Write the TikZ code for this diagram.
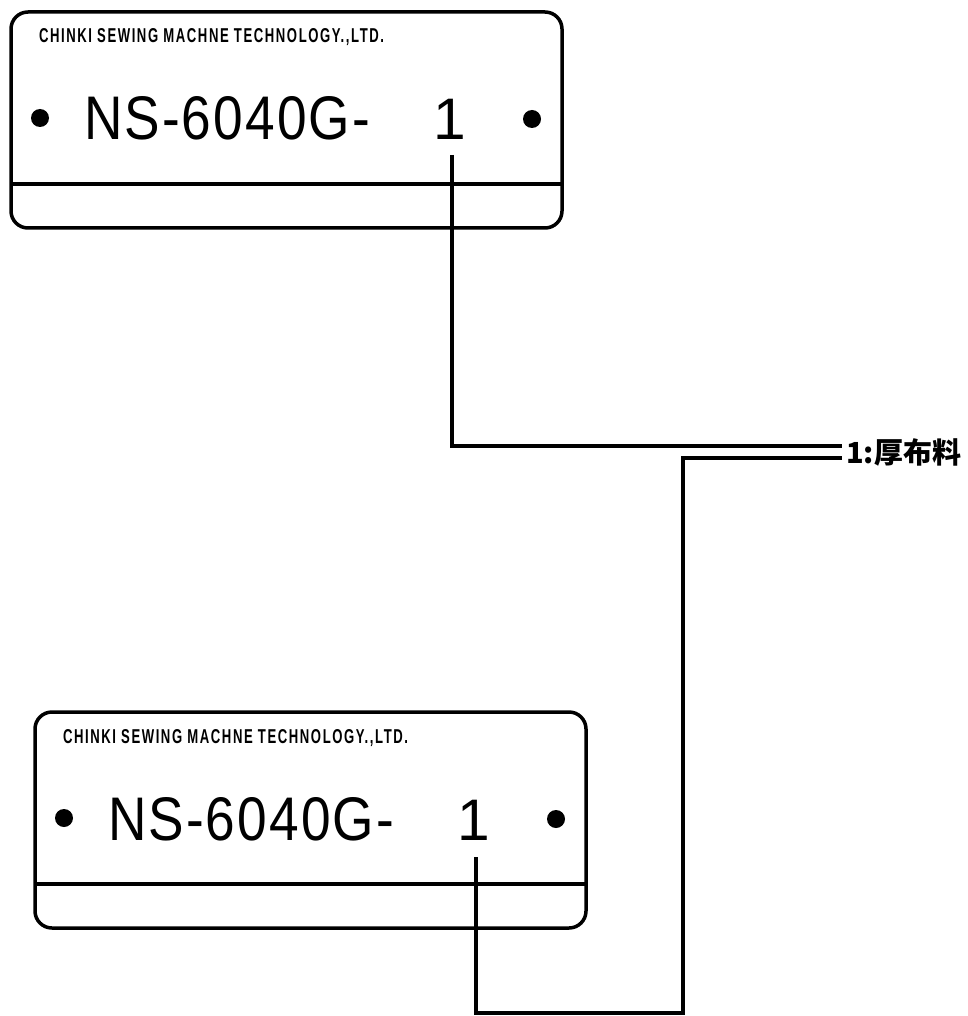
\documentclass[tikz,border=0pt]{standalone}
\usepackage{fontspec}
\setmainfont{Liberation Sans}
\newfontfamily\cjk{Noto Sans CJK SC}
\newfontfamily\smallplate[LetterSpace=12]{Liberation Sans}
\newfontfamily\bigplate[LetterSpace=4]{Liberation Sans}
\begin{document}
\begin{tikzpicture}[x=1pt,y=-1pt,
  plate/.style={line width=3.5pt, rounded corners=17pt},
  plateline/.style={line width=3.5pt},
  conn/.style={line width=4pt},
  txt/.style={inner sep=0pt, outer sep=0pt, anchor=base west}]
\fill[white] (0,0) rectangle (967,1016);
\useasboundingbox (0,0) rectangle (967,1016);
% top plate
\draw[plate] (11,12) rectangle (562,228);
\draw[plateline] (11,184) -- (562,184);
\node[txt] (smallA) at (39,43) {\resizebox{345pt}{14pt}{\smallplate\bfseries CHINKI SEWING MACHNE TECHNOLOGY.,LTD.}};
\node[txt] (bigA) at (84,140) {\resizebox{286pt}{43pt}{\bigplate NS-6040G-}};
\node[txt] (oneA) at (433,140) {\fontsize{58.6}{60}\selectfont 1};
\fill (40,118) circle (9pt);
\fill (532,119) circle (9pt);
% bottom plate
\begin{scope}[shift={(24,700)}]
\draw[plate] (11,12) rectangle (562,228);
\draw[plateline] (11,184) -- (562,184);
\node[txt] (smallB) at (39,43) {\resizebox{345pt}{14pt}{\smallplate\bfseries CHINKI SEWING MACHNE TECHNOLOGY.,LTD.}};
\node[txt] (bigB) at (84,140) {\resizebox{286pt}{43pt}{\bigplate NS-6040G-}};
\node[txt] (oneB) at (433,140) {\fontsize{58.6}{60}\selectfont 1};
\fill (40,118) circle (9pt);
\fill (532,119) circle (9pt);
\end{scope}
% label
\node[inner sep=0pt, anchor=west] (lab) at (846,452) {\cjk\bfseries\fontsize{29}{31}\selectfont 1:厚布料};
\coordinate (cB) at (683,1013);
% connectors
\draw[conn] ([xshift=3pt,yshift=-15pt]oneA.south) |- ([xshift=-4pt,yshift=6pt]lab.west);
\draw[conn] ([xshift=3pt,yshift=-17pt]oneB.south) |- (cB) |- ([xshift=-4pt,yshift=-6pt]lab.west);
\end{tikzpicture}
\end{document}
